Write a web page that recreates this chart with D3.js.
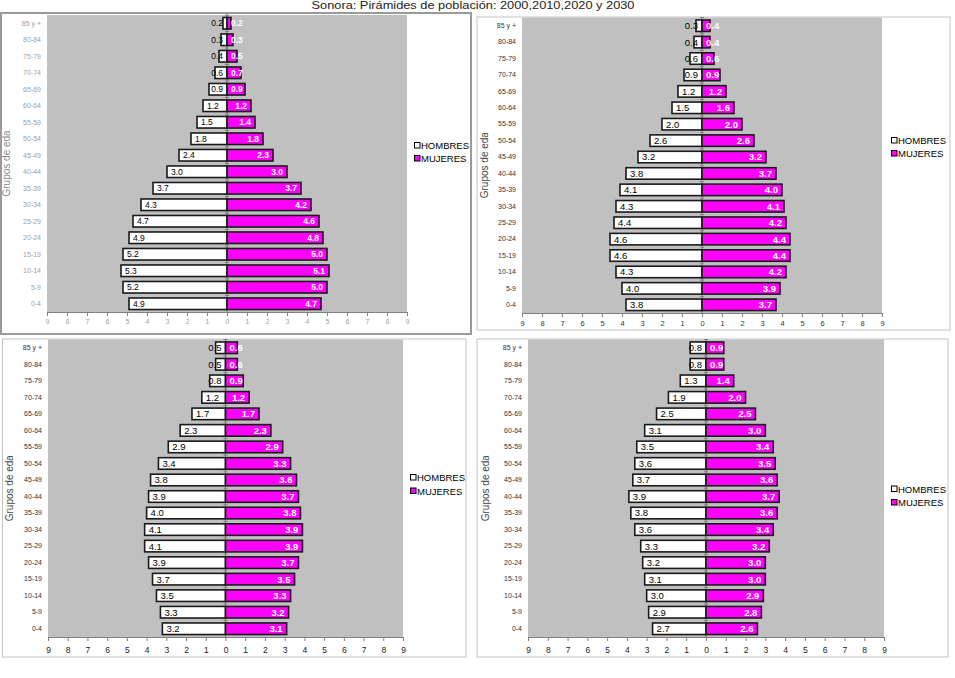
<!DOCTYPE html>
<html><head><meta charset="utf-8">
<script src="https://cdn.jsdelivr.net/npm/d3@7"></script>
<style>body{margin:0;background:#fff;} svg{display:block;font-family:"Liberation Sans",Arial,sans-serif;}</style>
</head><body><svg id="c" width="955" height="678"></svg>
<script>
// ---- data ----
const categories = ["0-4","5-9","10-14","15-19","20-24","25-29","30-34","35-39","40-44","45-49","50-54","55-59","60-64","65-69","70-74","75-79","80-84","85 y +"];
const years = ["2000","2010","2020","2030"];
const hombres2000 = [4.9,5.2,5.3,5.2,4.9,4.7,4.3,3.7,3.0,2.4,1.8,1.5,1.2,0.9,0.6,0.4,0.3,0.2];
const mujeres2000 = [4.7,5.0,5.1,5.0,4.8,4.6,4.2,3.7,3.0,2.3,1.8,1.4,1.2,0.9,0.7,0.5,0.3,0.2];
const hombres2010 = [3.8,4.0,4.3,4.6,4.6,4.4,4.3,4.1,3.8,3.2,2.6,2.0,1.5,1.2,0.9,0.6,0.4,0.3];
const mujeres2010 = [3.7,3.9,4.2,4.4,4.4,4.2,4.1,4.0,3.7,3.2,2.6,2.0,1.6,1.2,0.9,0.6,0.4,0.4];
const hombres2020 = [3.2,3.3,3.5,3.7,3.9,4.1,4.1,4.0,3.9,3.8,3.4,2.9,2.3,1.7,1.2,0.8,0.5,0.5];
const mujeres2020 = [3.1,3.2,3.3,3.5,3.7,3.9,3.9,3.8,3.7,3.6,3.3,2.9,2.3,1.7,1.2,0.9,0.6,0.6];
const hombres2030 = [2.7,2.9,3.0,3.1,3.2,3.3,3.6,3.8,3.9,3.7,3.6,3.5,3.1,2.5,1.9,1.3,0.8,0.8];
const mujeres2030 = [2.6,2.8,2.9,3.0,3.0,3.2,3.4,3.6,3.7,3.6,3.5,3.4,3.0,2.5,2.0,1.4,0.9,0.9];
const xTicks = [-9,-8,-7,-6,-5,-4,-3,-2,-1,0,1,2,3,4,5,6,7,8,9];
const seriesNames = ["HOMBRES","MUJERES"];
const titleText = "Sonora: Pirámides de población: 2000,2010,2020 y 2030";
const yTitleText = "Grupos de edad";

const hombres = [hombres2000, hombres2010, hombres2020, hombres2030];
const mujeres = [mujeres2000, mujeres2010, mujeres2020, mujeres2030];

// ---- layout ----
const panels = [
  {frame:[1,13,470,321], fs:"#9a9a9a", fw:2, plot:[47,407,15,312], lab:8.5, cat:7, catC:"#a0a0a0", tick:7, tickC:"#a0a0a0", tp:3,
   leg:[414.5,149,162], yt:[10,"#8a8a8a"]},
  {frame:[477,17,473,313], fs:"#c4c4c4", fw:1, plot:[522,882,17.5,313], lab:9.5, cat:7, catC:"#333", tick:7.5, tickC:"#333", tp:4,
   leg:[891.5,144,157], yt:[488,"#444"]},
  {frame:[2.5,339,463.5,318], fs:"#c4c4c4", fw:1, plot:[48,403,339.5,637], lab:9.5, cat:7, catC:"#333", tick:8.5, tickC:"#222", tp:6,
   leg:[410.5,481,494.5], yt:[13,"#444"]},
  {frame:[477,339,471,318], fs:"#c4c4c4", fw:1, plot:[528,884,339.5,637], lab:9.5, cat:7, catC:"#333", tick:8.5, tickC:"#222", tp:6,
   leg:[891.5,492.5,506], yt:[489,"#444"]}
];

const svg = d3.select("#c");
const defs = svg.append("defs");

svg.append("text").attr("x",473).attr("y",9).attr("text-anchor","middle")
  .attr("font-size",11.5).attr("fill","#222").attr("textLength",323).attr("lengthAdjust","spacingAndGlyphs")
  .text(titleText);

panels.forEach((p,i)=>{
  const g = svg.append("g");
  const [x0,x1,y0,y1] = p.plot;
  g.append("rect").attr("x",p.frame[0]).attr("y",p.frame[1]).attr("width",p.frame[2]).attr("height",p.frame[3])
    .attr("fill","#fff").attr("stroke",p.fs).attr("stroke-width",p.fw);
  g.append("rect").attr("x",x0).attr("y",y0).attr("width",x1-x0).attr("height",y1-y0).attr("fill","#c0c0c0");

  const xs = d3.scaleLinear().domain([-9,9]).range([x0,x1]);
  const ys = d3.scaleBand().domain(categories.slice().reverse()).range([y0,y1]).paddingInner(0.3).paddingOuter(0.15);
  const yb = d3.scaleBand().domain(categories.slice().reverse()).range([y0,y1]);

  // x axis
  const xa = g.append("g").attr("transform",`translate(0,${y1})`)
    .call(d3.axisBottom(xs).tickValues(xTicks).tickFormat(d=>Math.abs(d)).tickSize(4).tickPadding(p.tp).tickSizeOuter(0));
  xa.select(".domain").attr("stroke","#808080");
  xa.selectAll(".tick line").attr("stroke","#808080");
  xa.selectAll(".tick text").attr("fill",p.tickC).attr("font-size",p.tick).attr("font-family","Liberation Sans, Arial, sans-serif");

  // category labels
  const ya = g.append("g").attr("transform",`translate(${x0},0)`)
    .call(d3.axisLeft(ys).tickSize(0).tickPadding(6));
  ya.select(".domain").remove();
  ya.selectAll(".tick text").attr("fill",p.catC).attr("font-size",p.cat).attr("font-family","Liberation Sans, Arial, sans-serif");

  const h = hombres[i], m = mujeres[i];
  const dataH = categories.map((c,k)=>({c, v:h[k]}));
  const dataM = categories.map((c,k)=>({c, v:m[k]}));

  // center axis
  g.append("line").attr("x1",xs(0)).attr("x2",xs(0)).attr("y1",y0).attr("y2",y1).attr("stroke","#808080").attr("stroke-width",1);
  g.selectAll(".mt").data(categories).enter().append("line")
    .attr("x1",xs(0)-2).attr("x2",xs(0)+2).attr("y1",d=>yb(d)).attr("y2",d=>yb(d)).attr("stroke","#808080");

  g.selectAll(".bh").data(dataH).enter().append("rect")
    .attr("x",d=>xs(-d.v)).attr("y",d=>ys(d.c)).attr("width",d=>xs(0)-xs(-d.v)).attr("height",ys.bandwidth())
    .attr("fill","#fff").attr("stroke","#1a1a1a").attr("stroke-width",1.6);
  g.selectAll(".bm").data(dataM).enter().append("rect")
    .attr("x",xs(0)).attr("y",d=>ys(d.c)).attr("width",d=>xs(d.v)-xs(0)).attr("height",ys.bandwidth())
    .attr("fill","#ff00ff").attr("stroke","#1a1a1a").attr("stroke-width",1.6);

  // labels
  dataH.forEach(d=>{
    const t = g.append("text").attr("y",ys(d.c)+ys.bandwidth()/2).attr("dy","0.36em")
      .attr("font-size",p.lab).attr("fill","#000").text(d.v.toFixed(1));
    const w = t.node().getComputedTextLength();
    t.attr("x", Math.min(xs(-d.v)+4, xs(0)-4-w));
  });
  dataM.forEach(d=>{
    const t = g.append("text").attr("y",ys(d.c)+ys.bandwidth()/2).attr("dy","0.36em")
      .attr("font-size",p.lab).attr("font-weight","bold").attr("fill","#fff").text(d.v.toFixed(1));
    const w = t.node().getComputedTextLength();
    t.attr("x", Math.max(xs(d.v)-4-w, xs(0)+4));
  });

  // legend
  const lg = g.append("g");
  seriesNames.forEach((s,k)=>{
    const by = p.leg[1+k];
    lg.append("rect").attr("x",p.leg[0]).attr("y",by-6.5).attr("width",5.5).attr("height",5.5)
      .attr("fill",k===0?"#fff":"#ff00ff").attr("stroke","#000").attr("stroke-width",1);
    lg.append("text").attr("x",p.leg[0]+6.5).attr("y",by).attr("font-size",9.5).attr("fill","#000").text(s);
  });

  // y title (clipped, like the reference)
  const cy = (y0+y1)/2;
  const cid = "clip"+i;
  defs.append("clipPath").attr("id",cid).append("rect")
    .attr("x",p.yt[0]-14).attr("y",cy-32.5).attr("width",18).attr("height",80);
  g.append("g").attr("clip-path",`url(#${cid})`)
    .append("text")
    .attr("transform",`translate(${p.yt[0]},${cy+33}) rotate(-90)`)
    .attr("font-size",10).attr("fill",p.yt[1]).text(yTitleText);
});
</script></body></html>
